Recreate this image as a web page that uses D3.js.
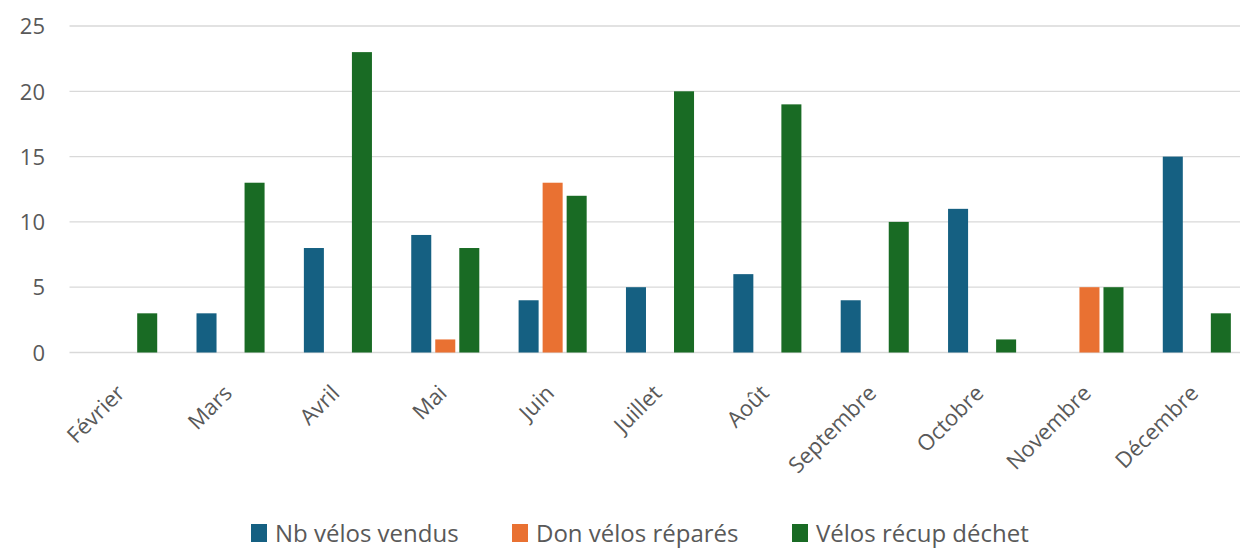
<!DOCTYPE html>
<html><head><meta charset="utf-8">
<script src="https://cdn.jsdelivr.net/npm/d3@7"></script>
<style>body{margin:0;background:#fff}svg{display:block;font-family:"Open Sans",sans-serif}</style>
</head><body><svg id="c" width="1240" height="548"></svg>
<script>
const categories = ["Février","Mars","Avril","Mai","Juin","Juillet","Août","Septembre","Octobre","Novembre","Décembre"];
const seriesNames = ["Nb vélos vendus","Don vélos réparés","Vélos récup déchet"];
const venduValues = [0,3,8,9,4,5,6,4,11,0,15];
const donValues   = [0,0,0,1,13,0,0,0,0,5,0];
const recupValues = [3,13,23,8,12,20,19,10,1,5,3];
const yTicks = [0,5,10,15,20,25];
const colors = ["#156082","#E97132","#196B24"];

(function(){
const series = [venduValues, donValues, recupValues];
const svg = d3.select("#c");
const pL = 69.5, pR = 1250.5, pT = 26, pB = 352.5;
const x = d3.scaleBand().domain(categories).range([pL,pR]).paddingInner(0.366).paddingOuter(0.183);
const xs = d3.scaleBand().domain(seriesNames).range([0,x.bandwidth()]).paddingInner(0.1667);
const y = d3.scaleLinear().domain([0,25]).range([pB,pT]);

svg.append("g").selectAll("line").data(yTicks).join("line")
  .attr("x1",pL).attr("x2",pR).attr("y1",d=>y(d)).attr("y2",d=>y(d))
  .attr("stroke","#d9d9d9").attr("stroke-width",1.3);

const yAxis = d3.axisLeft(y).tickValues(yTicks).tickSize(0).tickPadding(0);
const gy = svg.append("g").attr("transform",`translate(45,0)`).call(yAxis);
gy.select(".domain").remove();
gy.selectAll("text").attr("fill","#595959").style("font-size","22px").style("font-family","Open Sans").attr("dy","0.35em");

const groups = svg.append("g").selectAll("g").data(categories).join("g")
  .attr("transform",d=>`translate(${x(d)},0)`);
groups.selectAll("rect").data((c,i)=>series.map((s,k)=>({k, v:s[i]})).filter(d=>d.v>0)).join("rect")
  .attr("x",d=>xs(seriesNames[d.k])).attr("width",xs.bandwidth())
  .attr("y",d=>y(d.v)).attr("height",d=>y(0)-y(d.v))
  .attr("fill",d=>colors[d.k]);

const xAxis = d3.axisBottom(x).tickSize(0).tickPadding(0);
const gx = svg.append("g").attr("transform",`translate(0,${pB})`).call(xAxis);
gx.select(".domain").remove();
gx.selectAll("text").attr("fill","#595959").style("font-size","22px").style("font-family","Open Sans")
  .attr("text-anchor","end").attr("dy",0).attr("y",0)
  .attr("transform","translate(3,42) rotate(-45)");

const legendX = [251, 512, 792];
const lg = svg.append("g").selectAll("g").data(seriesNames).join("g")
  .attr("transform",(d,i)=>`translate(${legendX[i]},524)`);
lg.append("rect").attr("width",16).attr("height",18).attr("fill",(d,i)=>colors[i]);
lg.append("text").attr("x",24).attr("y",18).attr("fill","#595959").style("font-size","24px").style("font-family","Open Sans").text(d=>d);
})();
</script></body></html>
